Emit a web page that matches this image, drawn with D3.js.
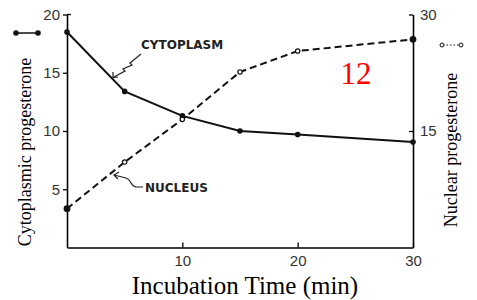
<!DOCTYPE html>
<html>
<head>
<meta charset="utf-8">
<script src="https://cdn.jsdelivr.net/npm/d3@7"></script>
<style>
body { margin: 0; background: #fff; }
</style>
</head>
<body>
<div class="container"></div>
<script>
// data
var times = [0, 5, 10, 15, 20, 30];
var cytoplasm = [18.5, 13.4, 11.3, 10.0, 9.7, 9.05];
var nucleus = [5.0, 11.0, 16.5, 22.6, 25.3, 26.8];
var xTicks = [10, 20, 30];
var leftTicks = [5, 10, 15, 20];
var rightTicks = [15, 30];

const WIDTH = 477;
const HEIGHT = 300;
const LEFT = 67, RIGHT = 413, TOP = 14.5, BOTTOM = 247.5;

var svg = d3.select('.container').append('svg')
    .attr('width', WIDTH)
    .attr('height', HEIGHT);

var xScale = d3.scaleLinear().domain([0, 30]).range([LEFT, RIGHT]);
var yLeft = d3.scaleLinear().domain([0, 20]).range([BOTTOM, TOP]);
var yRight = d3.scaleLinear().domain([0, 30]).range([BOTTOM, TOP]);

//axes
var xAxis = d3.axisBottom(xScale).tickValues(xTicks).tickSizeInner(-5).tickSizeOuter(0).tickPadding(8);
var leftAxis = d3.axisLeft(yLeft).tickValues(leftTicks).tickSizeInner(4).tickSizeOuter(0).tickPadding(3);
var rightAxis = d3.axisRight(yRight).tickValues(rightTicks).tickSizeInner(-4).tickSizeOuter(0).tickPadding(7);

function styleAxis(g) {
    g.select('.domain').attr('stroke-width', 1.6);
    g.selectAll('.tick line').attr('stroke-width', 1.3);
    g.selectAll('.tick text')
        .attr('font-family', 'Liberation Sans, Arial, sans-serif')
        .attr('font-size', 15).attr('fill', '#333');
}

svg.append('g').attr('transform', 'translate(0,' + BOTTOM + ')').call(xAxis).call(styleAxis);
svg.append('g').attr('transform', 'translate(' + LEFT + ',0)').call(leftAxis).call(styleAxis);
svg.append('g').attr('transform', 'translate(' + RIGHT + ',0)').call(rightAxis).call(styleAxis);

// small inward tick at top of left axis
svg.append('line')
    .attr('x1', LEFT).attr('x2', LEFT + 4)
    .attr('y1', yLeft(20)).attr('y2', yLeft(20))
    .attr('stroke', '#000').attr('stroke-width', 1.3);

var cytoData = times.map(function (t, i) { return [t, cytoplasm[i]]; });
var nucData = times.map(function (t, i) { return [t, nucleus[i]]; });

var cytoLine = d3.line()
    .x(function (d) { return xScale(d[0]); })
    .y(function (d) { return yLeft(d[1]); });
var nucLine = d3.line()
    .x(function (d) { return xScale(d[0]); })
    .y(function (d) { return yRight(d[1]); });

svg.append('path').datum(cytoData)
    .attr('d', cytoLine)
    .attr('fill', 'none').attr('stroke', '#111').attr('stroke-width', 2);

svg.append('path').datum(nucData)
    .attr('d', nucLine)
    .attr('fill', 'none').attr('stroke', '#111').attr('stroke-width', 2)
    .attr('stroke-dasharray', '7,4');

svg.append('g').selectAll('circle').data(cytoData)
    .enter().append('circle')
    .attr('cx', function (d) { return xScale(d[0]); })
    .attr('cy', function (d) { return yLeft(d[1]); })
    .attr('r', 2.8).attr('fill', '#111');

// nucleus: end points filled, inner ones open
svg.append('g').selectAll('circle').data(nucData)
    .enter().append('circle')
    .attr('cx', function (d) { return xScale(d[0]); })
    .attr('cy', function (d) { return yRight(d[1]); })
    .attr('r', function (d, i) { return (i === 0 || i === nucData.length - 1) ? 2.8 : 2.2; })
    .attr('fill', function (d, i) { return (i === 0 || i === nucData.length - 1) ? '#111' : '#fff'; })
    .attr('stroke', '#111').attr('stroke-width', 1.2);

// curve labels with squiggly arrows
svg.append('text').attr('x', 141).attr('y', 49)
    .attr('font-family', 'DejaVu Sans, sans-serif').attr('font-weight', 'bold')
    .attr('font-size', 12).attr('fill', '#222').text('CYTOPLASM');
svg.append('path')
    .attr('d', 'M141,54 L130,63 L132,65 L123,69 L125,71 L114,77')
    .attr('fill', 'none').attr('stroke', '#222').attr('stroke-width', 1.2);
svg.append('path')
    .attr('d', 'M113,72 L113,77.5 L118,77')
    .attr('fill', 'none').attr('stroke', '#222').attr('stroke-width', 1.2);

svg.append('text').attr('x', 145).attr('y', 192)
    .attr('font-family', 'DejaVu Sans, sans-serif').attr('font-weight', 'bold')
    .attr('font-size', 12).attr('fill', '#222').text('NUCLEUS');
svg.append('path')
    .attr('d', 'M143,187 L136,187 C130,186 132,180 126,178 L114,175')
    .attr('fill', 'none').attr('stroke', '#222').attr('stroke-width', 1.2);
svg.append('path')
    .attr('d', 'M119,172 L114,175 L118,179')
    .attr('fill', 'none').attr('stroke', '#222').attr('stroke-width', 1.2);

// axis titles
svg.append('text')
    .attr('transform', 'translate(' + 31 + ',' + 152 + ') rotate(-90)')
    .attr('text-anchor', 'middle')
    .attr('font-family', 'Liberation Serif, serif').attr('font-size', 18)
    .text('Cytoplasmic progesterone');

svg.append('text')
    .attr('transform', 'translate(' + 457 + ',' + 150 + ') rotate(-90)')
    .attr('text-anchor', 'middle')
    .attr('font-family', 'Liberation Serif, serif').attr('font-size', 18)
    .text('Nuclear progesterone');

svg.append('text')
    .attr('x', 245).attr('y', 294)
    .attr('text-anchor', 'middle')
    .attr('font-family', 'Liberation Serif, serif').attr('font-size', 25)
    .text('Incubation Time (min)');

// legend symbols
svg.append('line').attr('x1', 16).attr('x2', 38).attr('y1', 33).attr('y2', 33)
    .attr('stroke', '#111').attr('stroke-width', 1.5);
svg.selectAll('.lgdot').data([16, 38]).enter().append('circle')
    .attr('cx', function (d) { return d; }).attr('cy', 33).attr('r', 2.8).attr('fill', '#111');

svg.append('line').attr('x1', 443).attr('x2', 460).attr('y1', 45).attr('y2', 45)
    .attr('stroke', '#111').attr('stroke-width', 1).attr('stroke-dasharray', '1.5,2');
svg.selectAll('.lgo').data([442, 461]).enter().append('circle')
    .attr('cx', function (d) { return d; }).attr('cy', 45).attr('r', 2)
    .attr('fill', '#fff').attr('stroke', '#111').attr('stroke-width', 1);

// panel number
svg.append('text').attr('x', 356).attr('y', 84)
    .attr('text-anchor', 'middle')
    .attr('font-family', 'Liberation Serif, serif').attr('font-size', 31)
    .attr('fill', '#f00').text('12');
</script>
</body>
</html>
